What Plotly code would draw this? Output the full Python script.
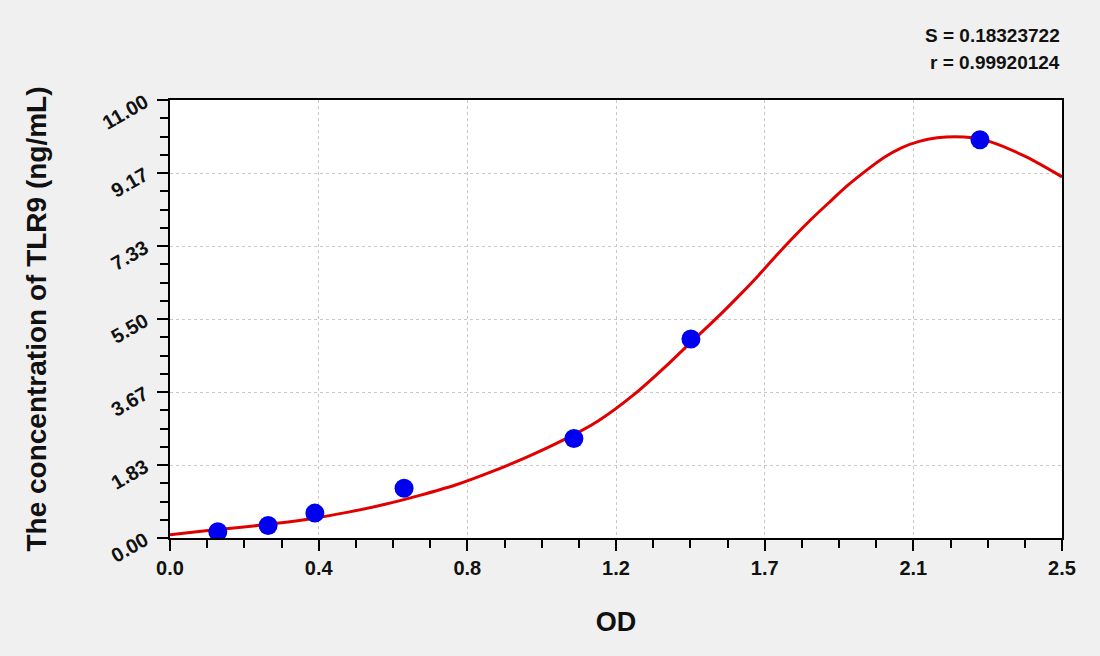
import plotly.graph_objects as go

# standards (OD vs concentration)
od = [0.134, 0.275, 0.406, 0.656, 1.132, 1.460, 2.270]
conc = [0.156, 0.312, 0.625, 1.25, 2.5, 5.0, 10.0]

# fitted curve
curve_od = [0.0, 0.1, 0.2, 0.3, 0.4, 0.5, 0.6, 0.7, 0.8, 0.9, 1.0, 1.1, 1.2, 1.3,
            1.4, 1.45, 1.5, 1.55, 1.6, 1.65, 1.7, 1.75, 1.8, 1.85, 1.9, 1.95, 2.0,
            2.05, 2.1, 2.15, 2.2, 2.25, 2.3, 2.4, 2.5]
curve_conc = [0.08, 0.18, 0.27, 0.37, 0.49, 0.65, 0.84, 1.07, 1.33, 1.66, 2.03, 2.45, 2.94, 3.60,
              4.40, 4.83, 5.25, 5.68, 6.13, 6.60, 7.10, 7.58, 8.03, 8.45, 8.86, 9.22, 9.55,
              9.80, 9.96, 10.05, 10.08, 10.05, 9.95, 9.57, 9.07]

x_ticks = [0, 2.5 / 6, 5 / 6, 1.25, 10 / 6, 12.5 / 6, 2.5]
x_labels = ["0.0", "0.4", "0.8", "1.2", "1.7", "2.1", "2.5"]
y_ticks = [0, 11 / 6, 22 / 6, 5.5, 44 / 6, 55 / 6, 11]
y_labels = ["0.00", "1.83", "3.67", "5.50", "7.33", "9.17", "11.00"]

fig = go.Figure()
fig.add_trace(go.Scatter(x=curve_od, y=curve_conc, mode="lines",
                         line=dict(color="#e00000", width=3, shape="spline", smoothing=0.8),
                         hoverinfo="skip"))
fig.add_trace(go.Scatter(x=od, y=conc, mode="markers",
                         marker=dict(color="#0000f0", size=19)))

font = "Liberation Sans, Arial, sans-serif"
axis_common = dict(showline=True, linecolor="black", linewidth=2, mirror=True,
                   ticks="outside", ticklen=11, tickwidth=2, tickcolor="black",
                   showgrid=True, gridcolor="#c8c8c8", griddash="dot", gridwidth=1,
                   zeroline=False,
                   tickfont=dict(family=font, size=20, color="#111111", weight="bold"))

fig.update_xaxes(range=[0, 2.5], tickvals=x_ticks, ticktext=x_labels, tickangle=0,
                 minor=dict(dtick=2.5 / 24, tick0=0, ticks="outside", ticklen=8,
                            tickwidth=2, tickcolor="black", showgrid=False),
                 title=dict(text="OD", standoff=34,
                            font=dict(family=font, size=27, color="#111111", weight="bold")),
                 **axis_common)
fig.update_yaxes(range=[0, 11], tickvals=y_ticks, ticktext=y_labels, tickangle=-30,
                 ticklabelstandoff=8,
                 minor=dict(dtick=11 / 24, tick0=0, ticks="outside", ticklen=8,
                            tickwidth=2, tickcolor="black", showgrid=False),
                 title=dict(text="The concentration of TLR9 (ng/mL)", standoff=44,
                            font=dict(family=font, size=28, color="#111111", weight="bold")),
                 **axis_common)

fig.add_annotation(text="S = 0.18323722", xref="paper", yref="paper", x=1, y=1,
                   xanchor="right", yanchor="bottom", yshift=52, showarrow=False,
                   font=dict(family=font, size=19, color="#111111", weight="bold"))
fig.add_annotation(text="r = 0.99920124", xref="paper", yref="paper", x=1, y=1,
                   xanchor="right", yanchor="bottom", yshift=25, showarrow=False,
                   font=dict(family=font, size=19, color="#111111", weight="bold"))

fig.update_layout(width=1100, height=656, showlegend=False,
                  paper_bgcolor="#f0f0f0", plot_bgcolor="white",
                  margin=dict(l=170, r=38, t=100, b=118))

fig.write_html("out.html", config={"displayModeBar": False},
               post_script="document.body.style.margin='0';")
